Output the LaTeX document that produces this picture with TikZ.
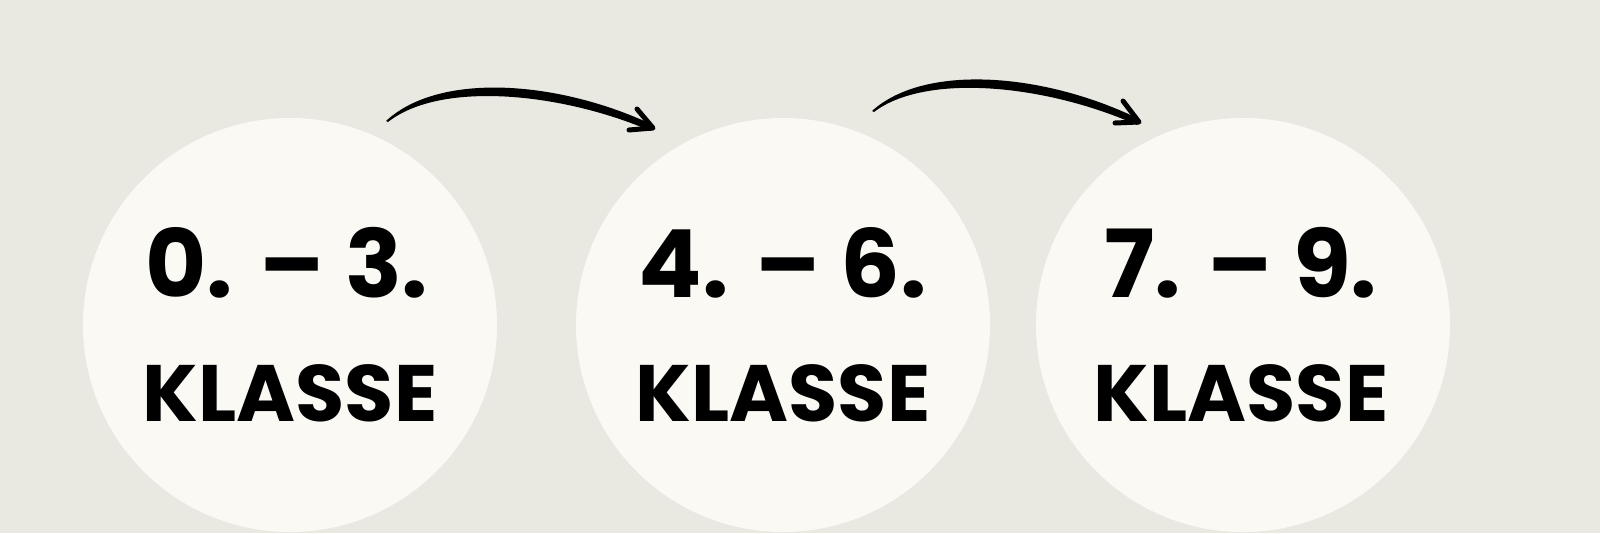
\documentclass[tikz,border=0pt]{standalone}
\usepackage{fontspec}
\usetikzlibrary{calc}
\setmainfont{Poppins}
\definecolor{bg}{HTML}{E9E9E2}
\definecolor{disc}{HTML}{FAF9F4}
\begin{document}
\begin{tikzpicture}[x=1pt,y=-1pt,
  disk/.style={circle,fill=disc,minimum size=414pt,inner sep=0pt},
  numtxt/.style={font=\fontsize{94}{94}\selectfont\bfseries,inner sep=0pt,text=black},
  klasse/.style={font=\fontsize{80}{80}\selectfont\bfseries,inner sep=0pt,text=black},
  barb/.style={line width=5pt,line cap=round,line join=round}]
\useasboundingbox (0,0) rectangle (1600,533);
\begin{scope}
\clip (0,0) rectangle (1600,533);
\fill[bg] (0,0) rectangle (1600,533);
\node[disk] (c1) at (290,325) {};
\node[disk] (c2) at (783,325) {};
\node[disk] (c3) at (1243,325) {};
\end{scope}
\node[numtxt] (n1) at (287,263) {0. – 3.};
\node[numtxt] (n2) at (783,263) {4. – 6.};
\node[numtxt] (n3) at (1241,263) {7. – 9.};
\node[klasse] (k1) at (290,393) {KLASSE};
\node[klasse] (k2) at (783,393) {KLASSE};
\node[klasse] (k3) at (1241,393) {KLASSE};
% arrow 1
\coordinate (a1s) at (386,121);
\coordinate (a1e) at (653,128);
\fill (a1s) .. controls (440,71) and (560,81) .. ($(a1e)+(0,-3)$)
  -- ($(a1e)+(-2,3)$) .. controls (560,92) and (440,81) .. ($(a1s)+(2,1)$) -- cycle;
\draw[barb] (637,109) -- (a1e) -- (629,130);
% arrow 2
\coordinate (a2s) at (872,111);
\coordinate (a2e) at (1139,122);
\fill (a2s) .. controls (925,63) and (1045,73) .. ($(a2e)+(0,-3)$)
  -- ($(a2e)+(-2,3)$) .. controls (1045,84) and (925,73) .. ($(a2s)+(2,1)$) -- cycle;
\draw[barb] (1123,101) -- (a2e) -- (1115,123);
\end{tikzpicture}
\end{document}
